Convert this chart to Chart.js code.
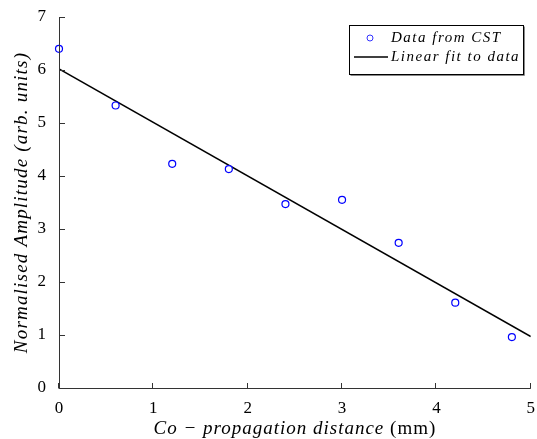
<!DOCTYPE html>
<html><head><meta charset="utf-8">
<script src="https://cdn.jsdelivr.net/npm/chart.js@4.4.0/dist/chart.umd.min.js"></script>
<style>html,body{margin:0;padding:0;background:#fff}#wrap{width:537px;height:439px}</style>
</head><body><div id="wrap"><canvas id="c" width="537" height="439"></canvas></div>
<script>
const distances = [0, 0.6, 1.2, 1.8, 2.4, 3.0, 3.6, 4.2, 4.8];
const amplitudes = [6.40, 5.33, 4.23, 4.13, 3.47, 3.55, 2.74, 1.61, 0.96];
const fitX = [0, 5];
const fitY = [6.02, 0.97];
const xTicks = [0, 1, 2, 3, 4, 5];
const yTicks = [0, 1, 2, 3, 4, 5, 6, 7];
const seriesNames = ['Data from CST', 'Linear fit to data'];
const xTitleParts = [['Co \u2212 propagation distance ', 'italic'], ['(mm)', 'normal']];
const yTitle = 'Normalised Amplitude (arb. units)';

const FONT = '"Liberation Serif", "DejaVu Serif", serif';

const decor = {
  id: 'decor',
  afterDraw(chart) {
    const ctx = chart.ctx, a = chart.chartArea;
    const xs = chart.scales.x, ys = chart.scales.y;
    ctx.save();
    // axes
    ctx.strokeStyle = '#333'; ctx.lineWidth = 1;
    ctx.beginPath();
    ctx.moveTo(a.left + 0.5, a.top); ctx.lineTo(a.left + 0.5, a.bottom + 0.5);
    ctx.lineTo(a.right, a.bottom + 0.5);
    ctx.stroke();
    // inward ticks
    ctx.beginPath();
    xTicks.forEach(v => { const p = Math.round(xs.getPixelForValue(v)) - 0.5; ctx.moveTo(p, a.bottom + 0.5); ctx.lineTo(p, a.bottom - 5); });
    yTicks.forEach(v => { const p = Math.round(ys.getPixelForValue(v)) + 0.5; ctx.moveTo(a.left, p); ctx.lineTo(a.left + 6, p); });
    ctx.stroke();
    // x title
    ctx.fillStyle = '#000'; ctx.textBaseline = 'alphabetic';
    ctx.letterSpacing = '1px';
    let total = 0;
    const widths = xTitleParts.map(([t, s]) => { ctx.font = s + ' 19px ' + FONT; const w = ctx.measureText(t).width; total += w; return w; });
    let x = (a.left + a.right) / 2 - total / 2;
    xTitleParts.forEach(([t, s], i) => { ctx.font = s + ' 19px ' + FONT; ctx.textAlign = 'left'; ctx.fillText(t, x, 434); x += widths[i]; });
    // y title
    ctx.save();
    ctx.letterSpacing = '1.2px';
    ctx.translate(27, (a.top + a.bottom) / 2);
    ctx.rotate(-Math.PI / 2);
    ctx.font = 'italic 19px ' + FONT; ctx.textAlign = 'center';
    ctx.fillText(yTitle, 0, 0);
    ctx.restore();
    // legend
    const lx = 349.5, ly = 25.5, lw = 174, lh = 49;
    ctx.fillStyle = '#fff'; ctx.fillRect(lx, ly, lw, lh);
    ctx.strokeStyle = '#000'; ctx.lineWidth = 1; ctx.strokeRect(lx, ly, lw, lh);
    ctx.strokeStyle = '#888'; ctx.beginPath(); ctx.moveTo(lx + 1, ly + lh + 1); ctx.lineTo(lx + lw + 1, ly + lh + 1); ctx.lineTo(lx + lw + 1, ly + 1); ctx.stroke();
    ctx.strokeStyle = '#3333ff'; ctx.lineWidth = 1;
    ctx.beginPath(); ctx.arc(370, 38, 3, 0, Math.PI * 2); ctx.stroke();
    ctx.strokeStyle = '#000'; ctx.lineWidth = 1.3;
    ctx.beginPath(); ctx.moveTo(354, 57); ctx.lineTo(388, 57); ctx.stroke();
    ctx.fillStyle = '#000'; ctx.font = 'italic 15px ' + FONT; ctx.textAlign = 'left'; ctx.textBaseline = 'middle';
    ctx.letterSpacing = '1.5px';
    ctx.fillText(seriesNames[0], 391, 38);
    ctx.fillText(seriesNames[1], 391, 57);
    ctx.restore();
  }
};

new Chart(document.getElementById('c'), {
  type: 'scatter',
  data: {
    datasets: [
      { label: seriesNames[1], type: 'line', data: fitX.map((x, i) => ({ x, y: fitY[i] })), borderColor: '#000', borderWidth: 1.5, pointRadius: 0, fill: false, order: 2 },
      { label: seriesNames[0], data: distances.map((x, i) => ({ x, y: amplitudes[i] })), pointStyle: 'circle', pointRadius: 3.5, borderColor: '#0000ff', backgroundColor: '#fff', borderWidth: 1.2, order: 1, clip: false }
    ]
  },
  options: {
    responsive: false, animation: false,
    layout: { padding: { top: 17, right: 6, left: 0, bottom: 0 } },
    plugins: { legend: { display: false }, tooltip: { enabled: false } },
    scales: {
      x: { type: 'linear', min: 0, max: 5, afterFit: s => { s.height = 51; },
        afterBuildTicks: s => { s.ticks = xTicks.map(v => ({ value: v })); },
        grid: { display: false }, border: { display: false },
        ticks: { color: '#000', font: { family: FONT, size: 17 }, padding: 2, maxRotation: 0 } },
      y: { type: 'linear', min: 0, max: 7, afterFit: s => { s.width = 59; },
        afterBuildTicks: s => { s.ticks = yTicks.map(v => ({ value: v })); },
        grid: { display: false }, border: { display: false },
        ticks: { color: '#000', font: { family: FONT, size: 17 }, padding: 5 } }
    }
  },
  plugins: [decor]
});
</script></body></html>
